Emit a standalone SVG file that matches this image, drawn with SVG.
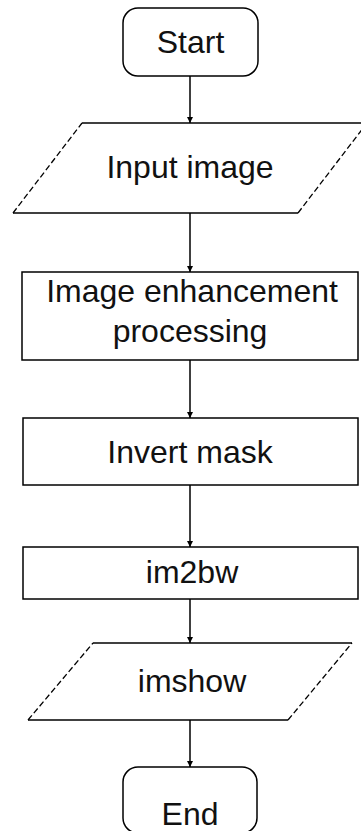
<svg xmlns="http://www.w3.org/2000/svg" width="361" height="831" viewBox="0 0 361 831">
<style>
.box{fill:#fff;stroke:#000;stroke-width:1.5}
.edge{fill:none;stroke:#000;stroke-width:1.5}
.dash{fill:none;stroke:#000;stroke-width:1.3;stroke-dasharray:6 3}
.lbl{font-family:"Liberation Sans",Arial,sans-serif;font-size:32px;fill:#111;text-anchor:middle}
.conn{stroke:#000;stroke-width:1.5;fill:none;marker-end:url(#ah)}
</style>
<defs>
<marker id="ah" viewBox="0 0 10 10" refX="10" refY="5" markerWidth="6" markerHeight="6" markerUnits="userSpaceOnUse" orient="auto">
<path d="M0,0 L10,5 L0,10 Z" fill="#000"/>
</marker>
</defs>
<rect width="361" height="831" fill="#fff"/>
<g id="connectors">
<line class="conn" x1="190" y1="76" x2="190" y2="123"/>
<line class="conn" x1="190" y1="213" x2="190" y2="272"/>
<line class="conn" x1="190" y1="360" x2="190" y2="418"/>
<line class="conn" x1="190" y1="485" x2="190" y2="547"/>
<line class="conn" x1="190" y1="599" x2="190" y2="643"/>
<line class="conn" x1="190" y1="720" x2="190" y2="767"/>
</g>
<g id="start">
<rect class="box" x="123" y="8" width="135" height="68" rx="15" ry="15"/>
<text class="lbl" x="190.5" y="53">Start</text>
</g>
<g id="input">
<polygon points="82,123 361,123 367,123 298,213 13,213" fill="#fff" stroke="none"/>
<line class="edge" x1="82" y1="123" x2="361" y2="123"/>
<line class="edge" x1="13" y1="213" x2="298" y2="213"/>
<line class="dash" x1="13" y1="213" x2="82" y2="123"/>
<line class="dash" x1="298" y1="213" x2="367" y2="123"/>
<text class="lbl" x="190" y="178">Input image</text>
</g>
<g id="enhance">
<rect class="box" x="22" y="272" width="336" height="88"/>
<text class="lbl" x="192" y="302">Image enhancement</text>
<text class="lbl" x="190" y="342">processing</text>
</g>
<g id="invert">
<rect class="box" x="23" y="418" width="335" height="67"/>
<text class="lbl" x="190" y="463">Invert mask</text>
</g>
<g id="im2bw">
<rect class="box" x="23" y="547" width="335" height="52"/>
<text class="lbl" x="192" y="583">im2bw</text>
</g>
<g id="imshow">
<polygon points="93,643 352,643 288,720 28,720" fill="#fff" stroke="none"/>
<line class="edge" x1="93" y1="643" x2="352" y2="643"/>
<line class="edge" x1="28" y1="720" x2="288" y2="720"/>
<line class="dash" x1="28" y1="720" x2="93" y2="643"/>
<line class="dash" x1="288" y1="720" x2="352" y2="643"/>
<text class="lbl" x="192" y="692">imshow</text>
</g>
<g id="end">
<rect class="box" x="123" y="767" width="134" height="66" rx="15" ry="15"/>
<text class="lbl" x="190" y="825">End</text>
</g>
</svg>
